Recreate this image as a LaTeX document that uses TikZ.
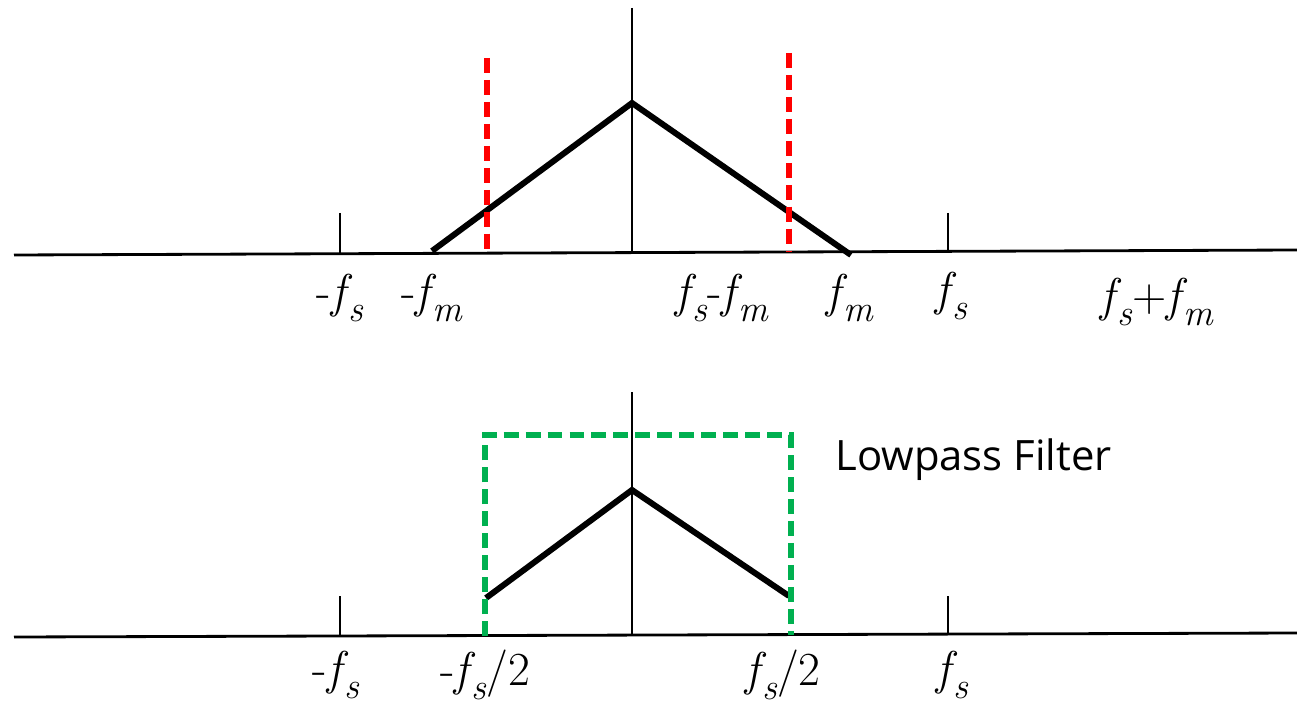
\documentclass[tikz,border=0pt]{standalone}
\usepackage{fontspec}
\newfontfamily\filterfont{Open Sans}
\usepackage{tikz}
\usetikzlibrary{calc}

\definecolor{cutred}{RGB}{255,0,0}
\definecolor{passgreen}{RGB}{0,176,80}
\newcommand{\fq}[1]{{\itshape f}\kern0.06em\raisebox{-0.3em}{\scalebox{0.78}{\itshape #1}}}

\tikzset{
  axisline/.style={line width=1.6pt},
  spectrum/.style={line width=3.4pt, line cap=butt},
  cutline/.style={cutred, line width=2.9pt, dash pattern=on 8.5pt off 4pt},
  passband/.style={passgreen, line width=2.9pt, dash pattern=on 8.5pt off 4pt},
  freqlabel/.style={font=\fontsize{27}{27}\selectfont, inner sep=0pt}
}

\begin{document}
\begin{tikzpicture}[x=0.02cm, y=-0.02cm]
    \useasboundingbox (0,0) rectangle (1297,702);

    % upper spectrum
    \draw[axisline] (14,255) -- (1297,250);
    \draw[axisline, line width=1.3pt] (632,8) -- (632,253);
    \draw[axisline, line width=1.3pt] (340,213) -- (340,254);
    \draw[axisline, line width=1.3pt] (948,213) -- (948,251);
    \draw[spectrum] (432,251) -- (632,103) -- (851,255);
    \draw[cutline] (487,58) -- (487,254);
    \draw[cutline] (789,53) -- (789,251);

    \node[freqlabel] (nfs) at (340,298) {-\fq{s}};
    \node[freqlabel] (nfm) at (432,298) {-\fq{m}};
    \node[freqlabel] (fsmfm) at (722,298) {\fq{s}-\fq{m}};
    \node[freqlabel] (fm) at (850,298) {\fq{m}};
    \node[freqlabel] (fs) at (951,296) {\fq{s}};
    \node[freqlabel] (fspfm) at (1157,302) {\fq{s}+\fq{m}};

    % lower spectrum
    \draw[axisline] (14,637) -- (1297,633);
    \draw[axisline, line width=1.3pt] (632,392) -- (632,636);
    \draw[axisline, line width=1.3pt] (340,596) -- (340,636);
    \draw[axisline, line width=1.3pt] (948,596) -- (948,634);
    \draw[spectrum] (486,598) -- (632,490) -- (789,596);
    \draw[passband] (485,636) -- (485,435) -- (791,435) -- (791,635);

    \node[font=\filterfont\fontsize{23.8}{23.8}\selectfont, anchor=west, inner sep=0pt] (lpf) at (835,460) {Lowpass Filter};

    \node[freqlabel] (nfs2) at (336,675) {-\fq{s}};
    \node[freqlabel] (nhalf) at (485,675) {-\fq{s}/2};
    \node[freqlabel] (half) at (783,675) {\fq{s}/2};
    \node[freqlabel] (fs2) at (952,675) {\fq{s}};
\end{tikzpicture}
\end{document}
